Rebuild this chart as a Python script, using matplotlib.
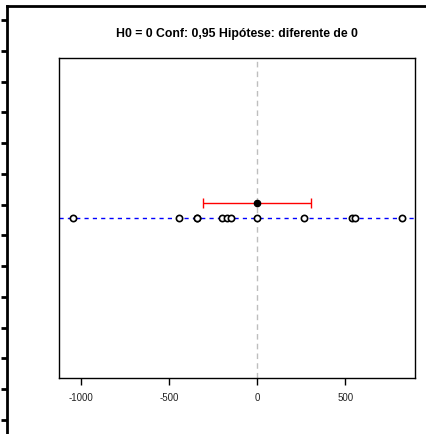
import numpy as np
import matplotlib
matplotlib.use("Agg")
import matplotlib.pyplot as plt

# sample values
valores = [-1043, -442, -340, -338, -198, -170, -146, 2, 264, 540, 557, 825]
media = 0
ic_inf = -308
ic_sup = 309
h0 = 0
titulo = "H0 = 0 Conf: 0,95 Hipótese: diferente de 0"
xticks = [-1000, -500, 0, 500]

plt.rcParams['font.family'] = ['Liberation Sans', 'DejaVu Sans']

W, H = 427, 434
fig = plt.figure(figsize=(W / 100, H / 100), dpi=100)

# outer frame left over from the screenshot crop
fr = fig.add_axes([7 / W, 0, 1 - 7 / W, 1 - 6 / H])
fr.set_xlim(0, 1)
fr.set_ylim(434, 6)
for s in ['right', 'bottom']:
    fr.spines[s].set_visible(False)
fr.spines['left'].set_linewidth(2)
fr.spines['top'].set_linewidth(2)
fr.set_xticks([])
fr.set_yticks(np.arange(20, 434, 30.77))
fr.set_yticklabels([])
fr.tick_params(axis='y', length=4, width=2, direction='out')
fr.patch.set_visible(False)

# main plot
left, right, top, bottom = 59, 415, 58, 378
ax = fig.add_axes([left / W, 1 - bottom / H, (right - left) / W, (bottom - top) / H])
ax.set_xlim(-1123, 896)
ax.set_ylim(-10.67, 10.67)

ax.axvline(h0, color='#bebebe', linestyle=(0, (4, 3)), linewidth=1, zorder=1)
ax.axhline(0, color='blue', linestyle=(0, (3, 3)), linewidth=1, zorder=1)
ax.plot(valores, np.zeros(len(valores)), linestyle='none', marker='o', markersize=4.5,
        markerfacecolor='white', markeredgecolor='black', markeredgewidth=1.2, zorder=3)

ax.errorbar([media], [1], xerr=[[media - ic_inf], [ic_sup - media]], fmt='none',
            ecolor='red', elinewidth=1, capsize=3.5, capthick=1, zorder=2)
ax.plot([media], [1], marker='o', markersize=4.5, color='black', zorder=4)

ax.set_yticks([])
ax.set_xticks(xticks)
ax.set_xticklabels([str(t) for t in xticks])
ax.tick_params(axis='x', length=5, width=1, pad=6, labelsize=7, labelcolor='#222222')
for s in ax.spines.values():
    s.set_linewidth(1)

fig.text((left + right) / 2 / W, 1 - 34 / H, titulo, ha='center', va='center',
         fontsize=8.8, fontweight='bold')

fig.savefig('out.png', dpi=100)
